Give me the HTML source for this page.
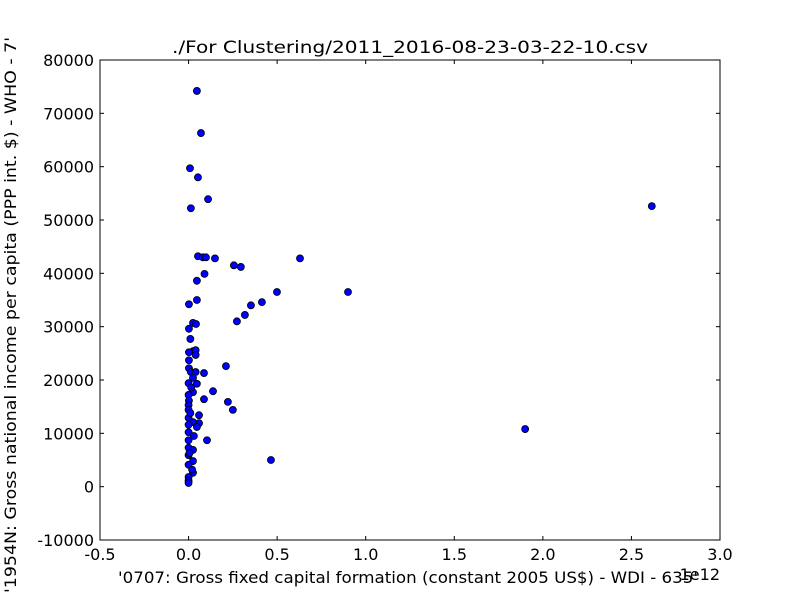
<!DOCTYPE html>
<html><head><meta charset="utf-8"><style>
body{margin:0;background:#fff;}
svg{display:block;font-family:"DejaVu Sans","Liberation Sans",sans-serif;}
</style></head><body>
<svg id="chart" width="800" height="600">
<rect width="800" height="600" fill="#fff"/>
<text x="410" y="53" font-size="17" text-anchor="middle" textLength="476" lengthAdjust="spacingAndGlyphs">./For Clustering/2011_2016-08-23-03-22-10.csv</text>
<g id="ticks"></g>
<g id="points"></g>
<rect x="100" y="60" width="620" height="480" fill="none" stroke="#000" stroke-width="1"/>
<text x="118" y="583" font-size="16" textLength="580" lengthAdjust="spacingAndGlyphs">'0707: Gross fixed capital formation  (constant 2005 US$) - WDI - 635'</text>
<text x="720" y="580" font-size="16" text-anchor="end">1e12</text>
<text transform="translate(16,315) rotate(-90)" font-size="16" text-anchor="middle" textLength="556" lengthAdjust="spacingAndGlyphs">'1954N: Gross national income per capita (PPP int. $) - WHO - 7'</text>
</svg>
<script>
const xTicks=[-0.5,0,0.5,1.0,1.5,2.0,2.5,3.0];
const xTickLabels=["-0.5","0.0","0.5","1.0","1.5","2.0","2.5","3.0"];
const yTicks=[-10000,0,10000,20000,30000,40000,50000,60000,70000,80000];
const yTickLabels=["-10000","0","10000","20000","30000","40000","50000","60000","70000","80000"];
const xVals=[0.047,0.07,0.008,0.053,0.11,0.013,0.053,0.081,0.098,0.149,0.256,0.295,0.09,0.047,0.629,0.047,0.002,0.499,0.90,0.414,0.352,0.318,0.273,0.025,0.042,0.002,0.01,0.025,0.04,0.04,0.002,0.002,0.211,0.002,0.013,0.04,0.087,0.025,0,0.047,0.138,0.025,0,0.002,0.087,0.222,0.25,0,0,0.059,0,0.059,0.025,0,0.047,0,0.104,0,0,0.025,0,0.025,0,0.025,0,0,0,0.465,1.90,2.615,0.03,0.01,0.02,0.005,0.015];
const yVals=[74200,66300,59700,58000,53900,52200,43200,43000,43000,42800,41500,41200,39900,38600,42800,35000,34200,36500,36500,34600,34000,32200,31000,30700,30500,29600,27700,25400,25600,24700,25200,23700,22600,22200,21500,21500,21300,20400,19400,19300,17900,17700,17200,16100,16400,15900,14400,15300,14400,13400,12900,11900,12100,11600,11200,10200,8700,8700,7300,6900,5900,4800,4100,2600,1800,1100,700,5000,10800,52600,9500,13800,3200,6300,18600];
const NS="http://www.w3.org/2000/svg";
const sx=v=>100+(v+0.5)/3.5*620;
const sy=v=>540-(v+10000)/90000*480;
const tg=document.getElementById('ticks');
xTicks.forEach((t,i)=>{
  const x=sx(t);
  [[540,536],[60,64]].forEach(([a,b])=>{
    const l=document.createElementNS(NS,'line');
    l.setAttribute('x1',x);l.setAttribute('x2',x);l.setAttribute('y1',a);l.setAttribute('y2',b);l.setAttribute('stroke','#000');
    
    
    tg.appendChild(l);
  });
  const tx=document.createElementNS(NS,'text');
  tx.setAttribute('x',x);tx.setAttribute('y',560);tx.setAttribute('font-size','16');tx.setAttribute('text-anchor','middle');
  tx.textContent=xTickLabels[i];
  
  
  tg.appendChild(tx);
});
yTicks.forEach((t,i)=>{
  const y=sy(t);
  [[100,104],[720,716]].forEach(([a,b])=>{
    const l=document.createElementNS(NS,'line');
    l.setAttribute('x1',a);l.setAttribute('x2',b);l.setAttribute('y1',y);l.setAttribute('y2',y);l.setAttribute('stroke','#000');
    
    
    tg.appendChild(l);
  });
  const tx=document.createElementNS(NS,'text');
  tx.setAttribute('x',94);tx.setAttribute('y',y+6);tx.setAttribute('font-size','16');tx.setAttribute('text-anchor','end');
  tx.textContent=yTickLabels[i];
  
  
  tg.appendChild(tx);
});
const pg=document.getElementById('points');
xVals.forEach((v,i)=>{
  const c=document.createElementNS(NS,'circle');
  c.setAttribute('cx',sx(v));c.setAttribute('cy',sy(yVals[i]));c.setAttribute('r',3.5);
  c.setAttribute('fill','#0000ff');c.setAttribute('stroke','#000');c.setAttribute('stroke-width','0.8');
  
  
  pg.appendChild(c);
});
</script>
</body></html>
